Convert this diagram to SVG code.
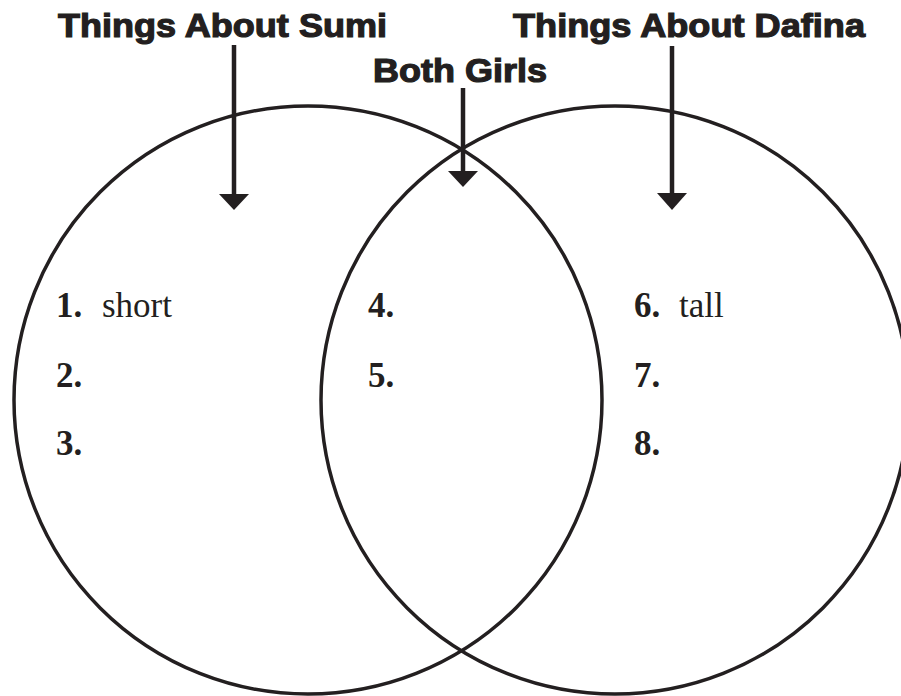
<svg xmlns="http://www.w3.org/2000/svg" width="901" height="696" viewBox="0 0 901 696">
<style>
.circle{fill:none;stroke:#231f20;stroke-width:3.5}
.title{font-family:"Liberation Sans",Arial,sans-serif;font-weight:bold;font-size:33px;fill:#231f20;stroke:#231f20;stroke-width:1.2}
.num{font-family:"Liberation Serif","Times New Roman",serif;font-weight:bold;font-size:35px;fill:#231f20}
.item{font-family:"Liberation Serif","Times New Roman",serif;font-size:35px;fill:#231f20}
.shaft{stroke:#231f20;stroke-width:4.5;fill:none}
.head{fill:#231f20}
</style>
<rect width="901" height="696" fill="#ffffff"/>
<g id="sumi-circle"><circle class="circle" cx="308" cy="400" r="294"/></g>
<g id="dafina-circle"><circle class="circle" cx="615" cy="400" r="294"/></g>
<g id="connectors">
  <line class="shaft" x1="234" y1="45" x2="234" y2="196"/>
  <polygon class="head" points="219,194 249,194 234,210"/>
  <line class="shaft" x1="463" y1="88" x2="463" y2="173"/>
  <polygon class="head" points="448,171 478,171 463,187"/>
  <line class="shaft" x1="672" y1="46" x2="672" y2="195"/>
  <polygon class="head" points="657,193 687,193 672,210"/>
</g>
<g id="title-sumi"><text class="title" x="58" y="37" textLength="329" lengthAdjust="spacingAndGlyphs">Things About Sumi</text></g>
<g id="title-both"><text class="title" x="373" y="82" textLength="174" lengthAdjust="spacingAndGlyphs">Both Girls</text></g>
<g id="title-dafina"><text class="title" x="513" y="37" textLength="352" lengthAdjust="spacingAndGlyphs">Things About Dafina</text></g>
<g id="sumi-items">
  <text class="num" x="56" y="317">1.</text><text class="item" x="102" y="317">short</text>
  <text class="num" x="56" y="387">2.</text>
  <text class="num" x="56" y="455">3.</text>
</g>
<g id="both-items">
  <text class="num" x="368" y="317">4.</text>
  <text class="num" x="368" y="387">5.</text>
</g>
<g id="dafina-items">
  <text class="num" x="634" y="317">6.</text><text class="item" x="679" y="317">tall</text>
  <text class="num" x="634" y="387">7.</text>
  <text class="num" x="634" y="455">8.</text>
</g>
</svg>
